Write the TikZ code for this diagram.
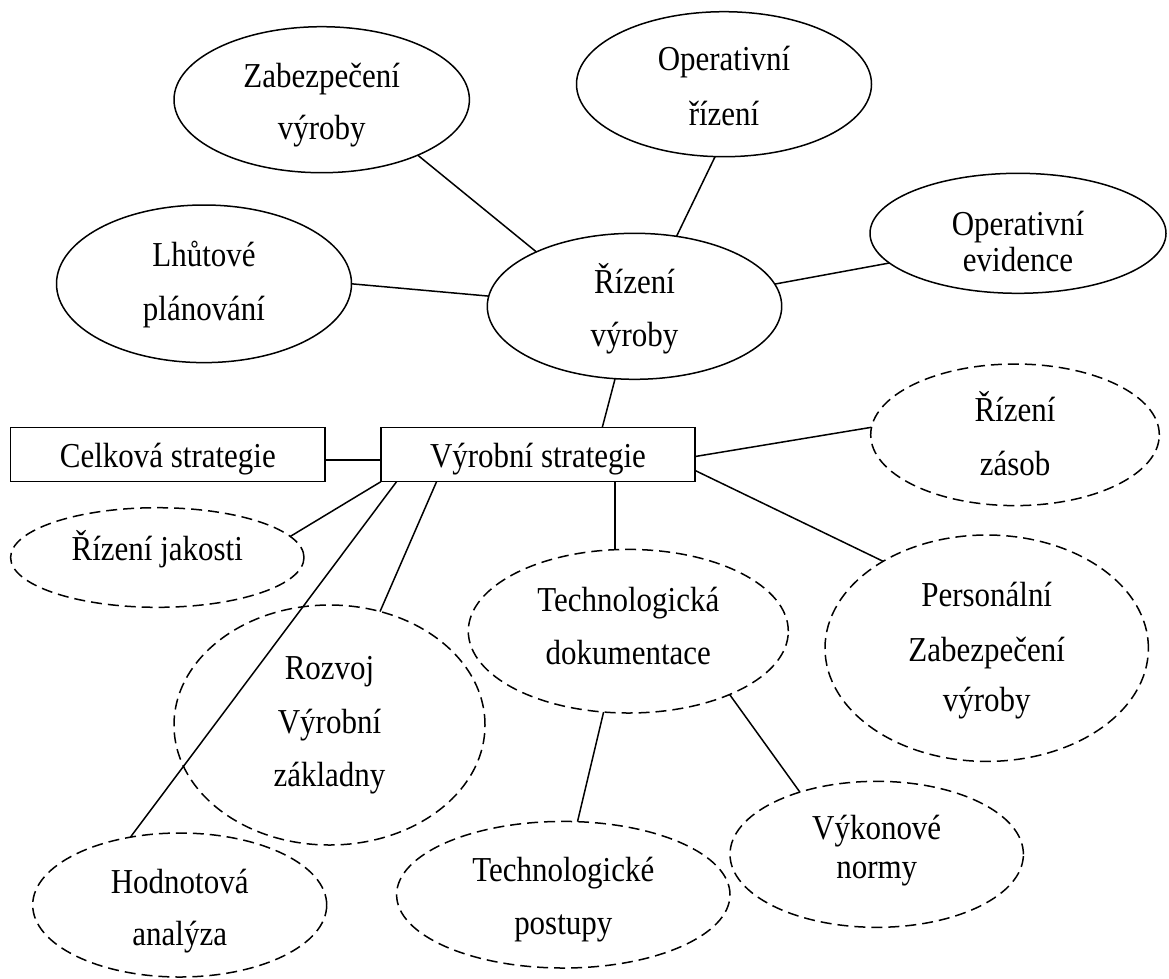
\documentclass[tikz,border=0pt]{standalone}
\usepackage{fontspec}
\setmainfont{Liberation Serif}[FakeStretch=0.885]
\usetikzlibrary{shapes.geometric}

\begin{document}
\begin{tikzpicture}[x=1pt,y=-1pt,
  every node/.style={inner sep=0pt, outer sep=0pt},
  txtfont/.style={font=\fontsize{35}{42}\selectfont},
  bubble/.style 2 args={ellipse, draw, line width=1.5pt,
    minimum width=#1, minimum height=#2},
  solidbubble/.style 2 args={bubble={#1}{#2}},
  dashbubble/.style 2 args={bubble={#1}{#2}, dash pattern=on 11pt off 6pt},
  box/.style={rectangle, draw, line width=1.5pt, txtfont,
    minimum width=314.3pt, minimum height=54.4pt,
    text height=31.6pt, text depth=6pt},
  lbl/.style={anchor=base, txtfont},
  link/.style={line width=1.5pt}]

\useasboundingbox (0,0) rectangle (1169,978);

% --- management branch (solid outlines) ---
\node[solidbubble={295.4pt}{146pt}]   (zab) at (321.7,99.7)  {};
\node[solidbubble={295pt}{157.6pt}]   (lhu) at (204,283.8)   {};
\node[solidbubble={295pt}{145pt}]     (opr) at (724,84.2)    {};
\node[solidbubble={294.4pt}{146pt}]   (rv)  at (634.5,306.3) {};
\node[solidbubble={296pt}{120pt}]     (ope) at (1018,233.3)  {};

\node[lbl] (zab-a) at (321.7,87.3)  {Zabezpečení};
\node[lbl] (zab-b) at (321.7,139.3) {výroby};
\node[lbl] (lhu-a) at (204,266.7)   {Lhůtové};
\node[lbl] (lhu-b) at (204,320)     {plánování};
\node[lbl] (opr-a) at (724,70)      {Operativní};
\node[lbl] (opr-b) at (724,125)     {řízení};
\node[lbl] (rv-a)  at (634.5,293.3) {Řízení};
\node[lbl] (rv-b)  at (634.5,346.7) {výroby};
\node[lbl] (ope-a) at (1018,235)    {Operativní};
\node[lbl] (ope-b) at (1018,271.7)  {evidence};

% --- strategy boxes ---
\node[box] (cel) at (167.85,454.5) {Celková strategie};
\node[box] (vs)  at (538,454.5)    {Výrobní strategie};

% --- supporting areas (dashed outlines) ---
\node[dashbubble={293.4pt}{99.6pt}]   (jak)   at (157.3,557.5) {};
\node[dashbubble={311pt}{240pt}]      (roz)   at (329.5,725)   {};
\node[dashbubble={294pt}{144pt}]      (hod)   at (179.7,905)   {};
\node[dashbubble={320pt}{163.6pt}]    (tdok)  at (628.3,631.2) {};
\node[dashbubble={288.6pt}{141.6pt}]  (zas)   at (1015,434.8)  {};
\node[dashbubble={323.4pt}{226.4pt}]  (per)   at (986.7,648.2) {};
\node[dashbubble={293.4pt}{146pt}]    (vyk)   at (876.7,854.3) {};
\node[dashbubble={333.4pt}{146.6pt}]  (tpost) at (563.3,894.7) {};

\node[lbl] (jak-a)   at (157.3,560)   {Řízení jakosti};
\node[lbl] (roz-a)   at (329.5,679.7) {Rozvoj};
\node[lbl] (roz-b)   at (329.5,733)   {Výrobní};
\node[lbl] (roz-c)   at (329.5,786.3) {základny};
\node[lbl] (hod-a)   at (179.7,893)   {Hodnotová};
\node[lbl] (hod-b)   at (179.7,945.7) {analýza};
\node[lbl] (tdok-a)  at (628.3,611.7) {Technologická};
\node[lbl] (tdok-b)  at (628.3,664.7) {dokumentace};
\node[lbl] (zas-a)   at (1015,421.7)  {Řízení};
\node[lbl] (zas-b)   at (1015,475)    {zásob};
\node[lbl] (per-a)   at (986.7,606.7) {Personální};
\node[lbl] (per-b)   at (986.7,661.7) {Zabezpečení};
\node[lbl] (per-c)   at (986.7,711.3) {výroby};
\node[lbl] (vyk-a)   at (876.7,839.7) {Výkonové};
\node[lbl] (vyk-b)   at (876.7,878)   {normy};
\node[lbl] (tpost-a) at (563.3,881.3) {Technologické};
\node[lbl] (tpost-b) at (563.3,934.7) {postupy};

% --- connectors ---
\draw[link] (zab.-30.5) -- (rv.151);
\draw[link] (lhu.0) -- (rv.176);
\draw[link] (opr.263.8) -- (rv.59);
\draw[link] (rv.9) -- (ope.193.7);
\draw[link] (rv.255) -- ([xshift=64.3pt]vs.north);
\draw[link] ([yshift=-5.5pt]cel.east) -- ([yshift=-5.5pt]vs.west);
\draw[link] (vs.south west) -- (jak.9.5);
\draw[link] ([xshift=15.7pt]vs.south west) -- (hod.126.4);
\draw[link] ([xshift=55.7pt]vs.south west) -- (roz.66.8);
\coordinate (tdokin) at ([xshift=77pt]vs.south);
\draw[link] (tdokin) -- (tdokin |- tdok.north);
\draw[link] ([yshift=-2pt]vs.east) -- (zas.177.4);
\draw[link] ([yshift=-16pt]vs.east) -- (per.140);
\draw[link] (tdok.253) -- (tpost.79.7);
\draw[link] (tdok.-32.1) -- (vyk.141);

\end{tikzpicture}
\end{document}
